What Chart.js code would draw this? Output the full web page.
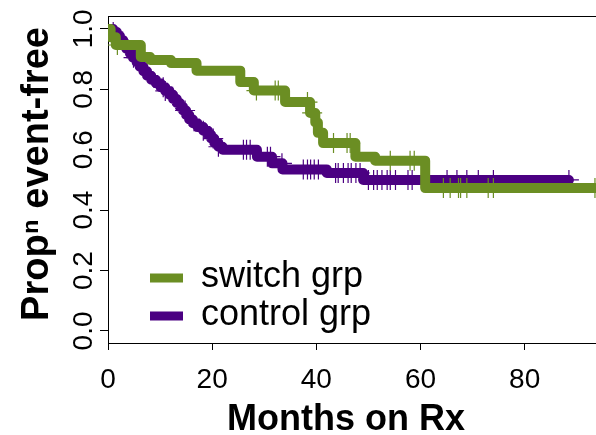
<!DOCTYPE html>
<html>
<head>
<meta charset="utf-8">
<title>KM curves</title>
<script src="https://cdn.jsdelivr.net/npm/chart.js@4.4.0/dist/chart.umd.min.js"></script>
<style>
  html, body { margin: 0; padding: 0; background: #fff; }
</style>
</head>
<body>
<canvas id="km" width="596" height="435"></canvas>
<script>
// switch group: step times (months) and proportion event-free after each step
const switchTimes = [0, 0.5, 1.5, 6.3, 8.1, 12.1, 17, 25.4, 28.0, 34.0, 38.8, 39.8, 40.3, 41.3, 47.5, 51.3, 60.9, 93.6];
const switchSurv  = [1.0, 0.973, 0.947, 0.907, 0.897, 0.887, 0.862, 0.824, 0.796, 0.758, 0.722, 0.69, 0.656, 0.622, 0.577, 0.564, 0.473, 0.473];
// censored times (the + marks)
const switchCensor = [1.8, 28.5, 32.1, 32.7, 38.3, 39.2, 43.3, 45.9, 46.5, 54.2, 58.0, 58.8,
                      64.4, 65.7, 67.3, 67.7, 68.9, 73.0, 74.0, 93.5];

// control group
const controlTimes = [0, 1.0, 1.7, 2.3, 2.9, 3.5, 4.2, 4.8, 5.5, 6.1, 6.8, 7.5, 8.3, 9.2, 10.1,
                      11.0, 11.8, 12.5, 13.2, 13.8, 14.4, 15.0, 15.6, 16.3, 17.2, 18.3, 19.2,
                      19.8, 20.4, 21.2, 22.0, 28.6, 31.5, 33.5, 42.0, 49.0, 88.5];
const controlSurv  = [1.0, 0.99, 0.977, 0.963, 0.95, 0.935, 0.92, 0.905, 0.89, 0.875, 0.86, 0.845, 0.832, 0.82, 0.807,
                      0.795, 0.782, 0.768, 0.755, 0.742, 0.73, 0.715, 0.70, 0.688, 0.675, 0.663, 0.65,
                      0.637, 0.623, 0.61, 0.60, 0.577, 0.555, 0.535, 0.523, 0.50, 0.50];
const controlCensor = [1.0, 3.7, 4.9, 10.6, 11.0, 14.8, 18.3, 20.2, 21.2, 26.0, 26.6, 27.3, 30.6, 31.2,
                       33.4, 37.5, 38.3, 38.9, 39.6, 40.4, 43.7, 44.2, 45.2, 46.1, 46.7, 47.6, 48.4,
                       50.0, 51.0, 51.7, 52.6, 53.6, 54.2, 55.2, 57.6, 58.4, 65.1, 67.0, 68.9, 71.1, 74.0, 88.5];

const xTicks = [0, 20, 40, 60, 80];
const yTicks = [0, 0.2, 0.4, 0.6, 0.8, 1.0];
const yTickLabels = ['0.0', '0.2', '0.4', '0.6', '0.8', '1.0'];
const groupNames = ['switch grp', 'control grp'];
const groupColors = ['#6b8e23', '#4b0082'];

// value of the step curve at time t
function survAt(times, surv, t) {
    let s = surv[0];
    for (let i = 0; i < times.length; i++) {
        if (times[i] <= t) s = surv[i];
    }
    return s;
}

function curve(times, surv) {
    return times.map((t, i) => ({ x: t, y: surv[i] }));
}
function marks(censor, times, surv) {
    return censor.map(t => ({ x: t, y: survAt(times, surv, t) }));
}

const lineStyle = (color) => ({
    showLine: true,
    stepped: true,
    borderColor: color,
    borderWidth: 10,
    borderCapStyle: 'round',
    borderJoinStyle: 'round',
    pointRadius: 0,
    clip: 0,
});
const markStyle = (color) => ({
    showLine: false,
    pointStyle: 'cross',
    pointRadius: 10,
    pointBorderWidth: 1.2,
    pointBorderColor: color,
    pointBackgroundColor: color,
    clip: 0,
});

// axis labels, titles, box top and legend, drawn like the R plot
const rText = {
    id: 'rText',
    afterDraw(chart) {
        const { ctx, chartArea, scales } = chart;
        ctx.save();
        ctx.strokeStyle = '#000';
        ctx.lineWidth = 1;
        ctx.beginPath();
        ctx.moveTo(chartArea.left, chartArea.top + 0.5);
        ctx.lineTo(chartArea.right, chartArea.top + 0.5);
        ctx.stroke();

        ctx.fillStyle = '#000';
        ctx.textAlign = 'center';
        ctx.textBaseline = 'alphabetic';
        ctx.font = '28px "Liberation Sans", Arial, sans-serif';
        xTicks.forEach(v => ctx.fillText(String(v), scales.x.getPixelForValue(v), 388));
        yTicks.forEach((v, i) => {
            ctx.save();
            ctx.translate(92, scales.y.getPixelForValue(v));
            ctx.rotate(-Math.PI / 2);
            ctx.fillText(yTickLabels[i], 0, 0);
            ctx.restore();
        });

        ctx.font = 'bold 36px "Liberation Sans", Arial, sans-serif';
        ctx.fillText('Months on Rx', 346, 430);
        ctx.save();
        ctx.translate(48, 174);
        ctx.rotate(-Math.PI / 2);
        ctx.font = 'bold 38px "Liberation Sans", Arial, sans-serif';
        ctx.fillText('Propⁿ event-free', 0, 0);
        ctx.restore();

        // legend
        const rows = [278, 316];
        ctx.textAlign = 'left';
        ctx.font = '36px "Liberation Sans", Arial, sans-serif';
        groupNames.forEach((name, i) => {
            ctx.strokeStyle = groupColors[i];
            ctx.lineWidth = 9;
            ctx.lineCap = 'butt';
            ctx.beginPath();
            ctx.moveTo(150, rows[i]);
            ctx.lineTo(183, rows[i]);
            ctx.stroke();
            ctx.fillStyle = '#000';
            ctx.fillText(name, 201, rows[i] + 9);
        });
        ctx.restore();
    }
};

const ctx = document.getElementById('km').getContext('2d');
const chart = new Chart(ctx, {
    type: 'scatter',
    data: {
        datasets: [
            { label: groupNames[0], data: curve(switchTimes, switchSurv), ...lineStyle(groupColors[0]) },
            { label: groupNames[0] + ' censored', data: marks(switchCensor, switchTimes, switchSurv), ...markStyle(groupColors[0]) },
            { label: groupNames[1], data: curve(controlTimes, controlSurv), ...lineStyle(groupColors[1]) },
            { label: groupNames[1] + ' censored', data: marks(controlCensor, controlTimes, controlSurv), ...markStyle(groupColors[1]) },
        ],
    },
    options: {
        responsive: false,
        animation: false,
        devicePixelRatio: 1,
        events: [],
        layout: { autoPadding: false, padding: { top: 16, left: 0, right: 0, bottom: 0 } },
        plugins: { legend: { display: false }, tooltip: { enabled: false } },
        scales: {
            x: {
                type: 'linear',
                min: 0,
                max: 93.7,
                afterBuildTicks: (s) => { s.ticks = xTicks.map(v => ({ value: v })); },
                afterFit: (s) => { s.height = 92; },
                ticks: { display: false },
                grid: { drawOnChartArea: false, drawTicks: true, tickLength: 7, color: '#000', lineWidth: 1 },
                border: { display: true, color: '#000', width: 1 },
            },
            y: {
                type: 'linear',
                min: -0.04,
                max: 1.043,
                afterBuildTicks: (s) => { s.ticks = yTicks.map(v => ({ value: v })); },
                afterFit: (s) => { s.width = 108; },
                ticks: { display: false },
                grid: { drawOnChartArea: false, drawTicks: true, tickLength: 8, color: '#000', lineWidth: 1 },
                border: { display: true, color: '#000', width: 1 },
            },
        },
    },
    plugins: [rText],
});
</script>
</body>
</html>
